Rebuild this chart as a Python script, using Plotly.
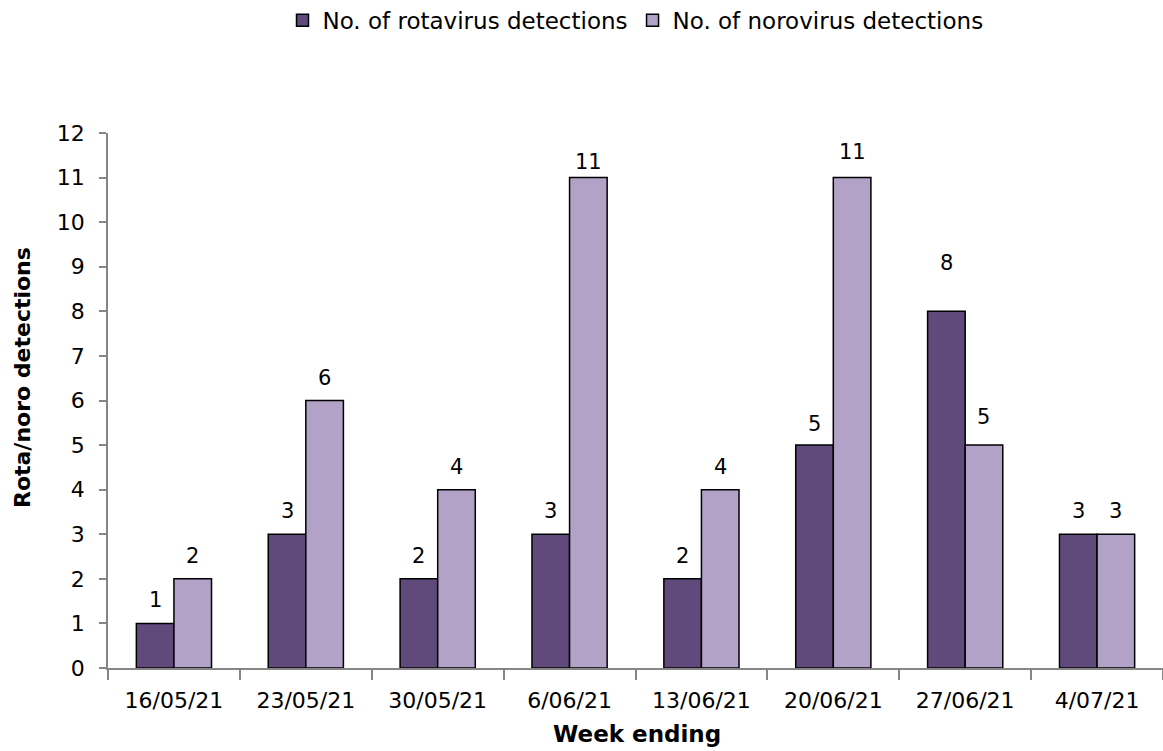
import plotly.graph_objects as go

# Weekly detection counts
weeks = ["16/05/21", "23/05/21", "30/05/21", "6/06/21",
         "13/06/21", "20/06/21", "27/06/21", "4/07/21"]
rotavirus = [1, 3, 2, 3, 2, 5, 8, 3]
norovirus = [2, 6, 4, 11, 4, 11, 5, 3]

# Vertical pixel offset of each value label above its bar
rota_label_shift = [14, 14, 14, 14, 14, 12, 39, 14]
noro_label_shift = [14, 14, 14, 7, 14, 17, 19, 14]

ROTA_COLOR = "#604A7B"
NORO_COLOR = "#B3A2C7"
AXIS_COLOR = "#868686"
FONT = "DejaVu Sans, sans-serif"

fig = go.Figure()
fig.add_trace(go.Bar(
    x=weeks, y=rotavirus, name="No. of rotavirus detections",
    marker=dict(color=ROTA_COLOR, line=dict(color="black", width=1.5)),
    offsetgroup="r",
))
fig.add_trace(go.Bar(
    x=weeks, y=norovirus, name="No. of norovirus detections",
    marker=dict(color=NORO_COLOR, line=dict(color="black", width=1.5)),
    offsetgroup="n",
))

# Value labels above the bars
bar_w = 0.285
for i, wk in enumerate(weeks):
    for val, shift, dx in ((rotavirus[i], rota_label_shift[i], -bar_w / 2),
                           (norovirus[i], noro_label_shift[i], bar_w / 2)):
        fig.add_annotation(
            x=i + dx, y=val, xref="x", yref="y", text=str(val),
            showarrow=False, yanchor="bottom", yshift=shift - 5,
            font=dict(family=FONT, size=21, color="black"),
        )

# Axis titles
fig.add_annotation(
    text="<b>Rota/noro detections</b>", xref="paper", yref="paper",
    x=-0.0815, y=0.542, xanchor="center", yanchor="middle",
    textangle=-90, showarrow=False,
    font=dict(family=FONT, size=22, color="black"),
)
fig.add_annotation(
    text="<b>Week ending</b>", xref="paper", yref="paper",
    x=0.501, y=-0.123, xanchor="center", yanchor="middle",
    showarrow=False,
    font=dict(family=FONT, size=23, color="black"),
)

fig.update_layout(
    width=1163, height=751,
    margin=dict(l=108, r=0, t=133, b=83),
    plot_bgcolor="white", paper_bgcolor="white",
    barmode="group", bargap=0.43, bargroupgap=0,
    font=dict(family=FONT, size=20, color="black"),
    legend=dict(
        orientation="h", x=0.5, xanchor="center",
        yref="container", y=0.973, yanchor="middle",
        font=dict(family=FONT, size=23, color="black"),
        itemwidth=30, traceorder="normal",
    ),
    showlegend=True,
)
fig.update_xaxes(
    type="category", range=[-0.5, len(weeks) - 0.5],
    showline=True, linecolor=AXIS_COLOR, linewidth=1.5,
    ticks="outside", tickson="boundaries", ticklen=10,
    tickcolor=AXIS_COLOR, tickwidth=1.5, ticklabelstandoff=12,
    tickfont=dict(family=FONT, size=22, color="black"),
    showgrid=False, automargin=False,
)
fig.update_yaxes(
    range=[0, 12], dtick=1, tick0=0,
    showline=True, linecolor=AXIS_COLOR, linewidth=1.5,
    ticks="outside", ticklen=7, tickcolor=AXIS_COLOR, tickwidth=1.5,
    ticklabelstandoff=10,
    tickfont=dict(family=FONT, size=22, color="black"),
    showgrid=False, zeroline=False, automargin=False,
)

fig.write_html("out.html")
